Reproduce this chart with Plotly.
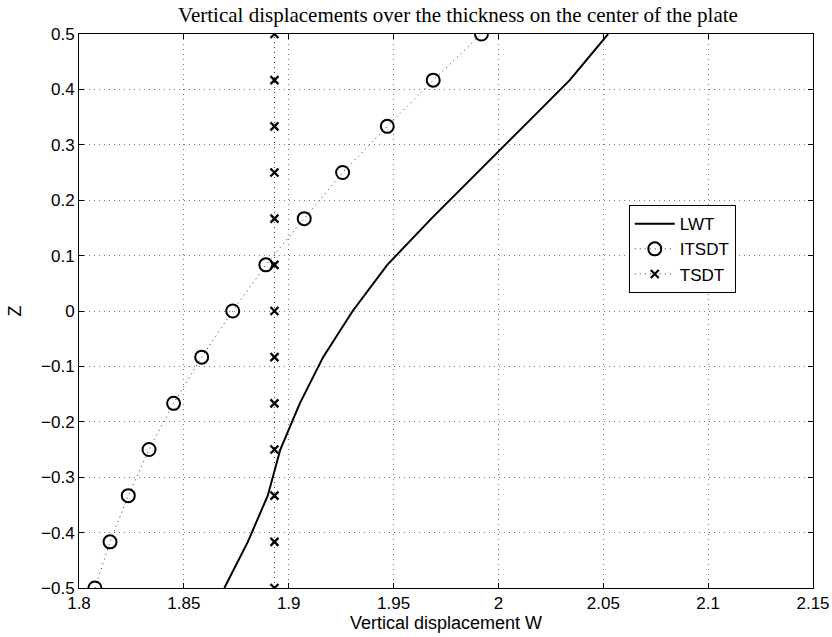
import plotly.graph_objects as go

# Through-thickness coordinate (13 evenly spaced stations from -0.5 to 0.5)
z = [-0.5, -0.4167, -0.3333, -0.25, -0.1667, -0.0833, 0.0,
     0.0833, 0.1667, 0.25, 0.3333, 0.4167, 0.5]

# Vertical displacement at the plate centre for each theory
w_lwt = [1.8693, 1.8805, 1.8900, 1.8960, 1.9053, 1.9164, 1.9305,
         1.9470, 1.9680, 1.9898, 2.0120, 2.0340, 2.0523]
w_itsdt = [1.8076, 1.8148, 1.8235, 1.8334, 1.8451, 1.8585, 1.8733,
           1.8891, 1.9074, 1.9257, 1.9470, 1.9689, 1.9919]
w_tsdt = [1.8932] * 13

x_ticks = [1.8, 1.85, 1.9, 1.95, 2.0, 2.05, 2.1, 2.15]
x_ticklabels = ["1.8", "1.85", "1.9", "1.95", "2", "2.05", "2.1", "2.15"]
y_ticks = [-0.5, -0.4, -0.3, -0.2, -0.1, 0.0, 0.1, 0.2, 0.3, 0.4, 0.5]
y_ticklabels = ["\u22120.5", "\u22120.4", "\u22120.3", "\u22120.2", "\u22120.1", "0",
                "0.1", "0.2", "0.3", "0.4", "0.5"]

SANS = "Liberation Sans, Arial, sans-serif"
DOTS = "1px,4px"

fig = go.Figure()
fig.add_trace(go.Scatter(
    x=w_lwt, y=z, mode="lines", name="LWT",
    line=dict(color="black", width=2)))
fig.add_trace(go.Scatter(
    x=w_itsdt, y=z, mode="lines+markers", name="ITSDT",
    line=dict(color="#333", width=1, dash=DOTS),
    marker=dict(symbol="circle-open", size=13, color="black",
                line=dict(width=2, color="black"))))
fig.add_trace(go.Scatter(
    x=w_tsdt, y=z, mode="lines+markers", name="TSDT",
    line=dict(color="#333", width=1, dash=DOTS),
    marker=dict(symbol="x-thin-open", size=8, color="black",
                line=dict(width=2.2, color="black"))))

axis_common = dict(
    showline=True, linecolor="black", linewidth=1, mirror="ticks",
    ticks="inside", ticklen=5, tickcolor="black",
    showgrid=True, gridcolor="#777", griddash=DOTS, gridwidth=1,
    zeroline=False, automargin=False,
    tickfont=dict(family=SANS, size=17, color="black"),
)

fig.update_xaxes(
    range=[1.8, 2.15], tickvals=x_ticks, ticktext=x_ticklabels,
    title=dict(text="Vertical displacement W", standoff=2,
               font=dict(family=SANS, size=18, color="black")),
    **axis_common)
fig.update_yaxes(
    range=[-0.5, 0.5], tickvals=y_ticks, ticktext=y_ticklabels,
    title=dict(text="Z", standoff=14,
               font=dict(family=SANS, size=18, color="black")),
    **axis_common)

fig.update_layout(
    width=832, height=637,
    margin=dict(l=79, r=19, t=33.5, b=48.5),
    paper_bgcolor="white", plot_bgcolor="white",
    title=dict(text="Vertical displacements over the thickness on the center of the plate",
               x=458 / 832, xanchor="center", y=1 - 15 / 637, yanchor="middle",
               font=dict(family="Liberation Serif, Times New Roman, serif", size=21, color="black")),
    showlegend=True,
    legend=dict(x=0.749, y=0.691, xanchor="left", yanchor="top",
                bgcolor="white", bordercolor="black", borderwidth=1,
                font=dict(family=SANS, size=17, color="black"),
                tracegroupgap=0, itemwidth=40, entrywidth=118),
)

fig.write_html("out.html")
